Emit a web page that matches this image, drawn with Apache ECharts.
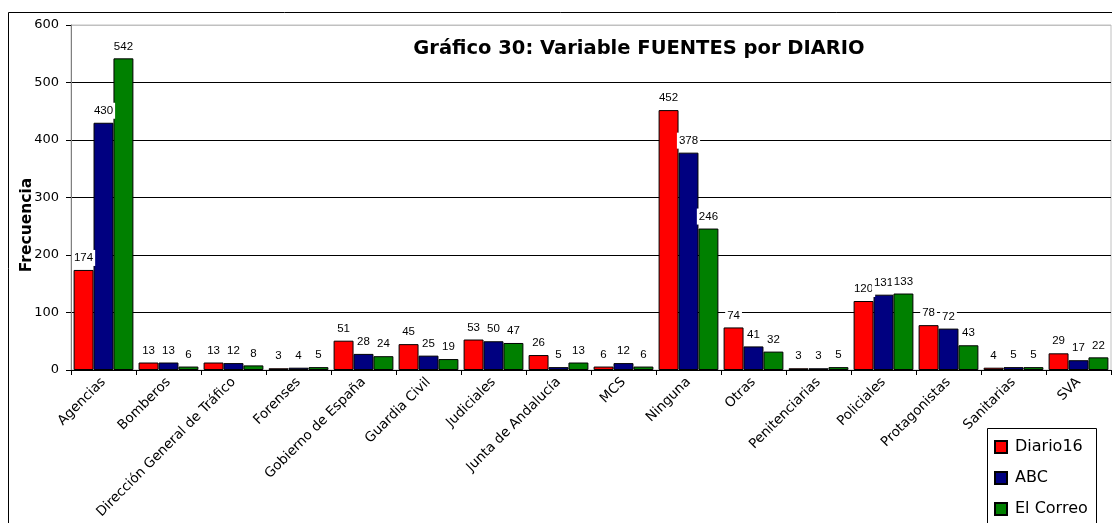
<!DOCTYPE html>
<html>
<head>
<meta charset="utf-8">
<script src="https://cdn.jsdelivr.net/npm/echarts@6/dist/echarts.min.js"></script>
<style>
  html, body { margin: 0; padding: 0; background: #fff; }
  #chart { width: 1112px; height: 523px; }
</style>
</head>
<body>
<div id="chart"></div>
<script>
// categorias y series
const categorias = ['Agencias', 'Bomberos', 'Dirección General de Tráfico', 'Forenses', 'Gobierno de España',
  'Guardia Civil', 'Judiciales', 'Junta de Andalucía', 'MCS', 'Ninguna', 'Otras', 'Penitenciarias',
  'Policiales', 'Protagonistas', 'Sanitarias', 'SVA']
const diario16 = [174, 13, 13, 3, 51, 45, 53, 26, 6, 452, 74, 3, 120, 78, 4, 29]
const abc = [430, 13, 12, 4, 28, 25, 50, 5, 12, 378, 41, 3, 131, 72, 5, 17]
const elCorreo = [542, 6, 8, 5, 24, 19, 47, 13, 6, 246, 32, 5, 133, 43, 5, 22]
const yMin = 0
const yMax = 600
const yStep = 100

const chart = echarts.init(document.getElementById('chart'))

const serie = (name, data, color) => ({
  name: name,
  type: 'bar',
  data: data,
  barGap: '0%',
  barCategoryGap: '8%',
  itemStyle: {
    color: color,
    borderColor: '#000',
    borderWidth: 1
  },
  label: {
    show: true,
    position: 'top',
    distance: 4,
    color: '#000',
    fontFamily: 'Liberation Sans',
    fontSize: 11.5,
    backgroundColor: '#fff',
    padding: [2, 2, 2, 2]
  },
  emphasis: { disabled: true }
})

let option = {
  animation: false,
  grid: {
    left: 71,
    top: 25,
    right: 1,
    bottom: 153,
    show: true,
    borderColor: '#c0c0c0',
    borderWidth: 1
  },
  title: {
    text: 'Gráfico 30: Variable FUENTES por DIARIO',
    left: 634,
    textAlign: 'center',
    top: 34,
    textStyle: {
      fontFamily: 'DejaVu Sans',
      fontWeight: 'bold',
      fontSize: 19.5,
      color: '#000'
    }
  },
  legend: {
    orient: 'vertical',
    left: 994,
    top: 439,
    z: 10,
    padding: 0,
    itemGap: 15,
    itemWidth: 12,
    itemHeight: 12,
    icon: 'rect',
    textStyle: {
      fontFamily: 'DejaVu Sans',
      fontSize: 16,
      color: '#000',
      padding: [0, 0, 0, 3]
    },
    data: ['Diario16', 'ABC', 'El Correo']
  },
  graphic: [
    {
      type: 'rect',
      z: -10,
      silent: true,
      shape: { x: 8.5, y: 12.5, width: 1300, height: 700 },
      style: { fill: 'none', stroke: '#000', lineWidth: 1 }
    },
    {
      // caja de la leyenda
      type: 'rect',
      z: 3,
      silent: true,
      shape: { x: 987.5, y: 428.5, width: 109, height: 200 },
      style: { fill: '#fff', stroke: '#000', lineWidth: 1 }
    },
    {
      type: 'text',
      x: 27,
      y: 225,
      rotation: Math.PI / 2,
      style: {
        text: 'Frecuencia',
        fontFamily: 'DejaVu Sans',
        fontWeight: 'bold',
        fontSize: 15.5,
        fill: '#000',
        align: 'center',
        verticalAlign: 'middle'
      }
    }
  ],
  xAxis: {
    type: 'category',
    data: categorias,
    axisLine: { lineStyle: { color: '#000', width: 1 } },
    axisTick: { show: true, length: 5, lineStyle: { color: '#000' } },
    axisLabel: {
      rotate: 45,
      interval: 0,
      margin: 10,
      fontFamily: 'DejaVu Sans',
      fontSize: 13.5,
      color: '#000'
    }
  },
  yAxis: {
    type: 'value',
    min: yMin,
    max: yMax,
    interval: yStep,
    axisLine: { show: true, lineStyle: { color: '#808080', width: 1 } },
    axisTick: { show: true, length: 5, lineStyle: { color: '#000' } },
    axisLabel: {
      margin: 12,
      fontFamily: 'DejaVu Sans',
      fontSize: 13,
      color: '#000'
    },
    splitLine: {
      lineStyle: {
        color: ['#000', '#000', '#000', '#000', '#000', '#000', '#c0c0c0'],
        width: 1
      }
    }
  },
  series: [
    serie('Diario16', diario16, '#ff0000'),
    serie('ABC', abc, '#000080'),
    serie('El Correo', elCorreo, '#008000')
  ]
}
chart.setOption(option)
</script>
</body>
</html>
